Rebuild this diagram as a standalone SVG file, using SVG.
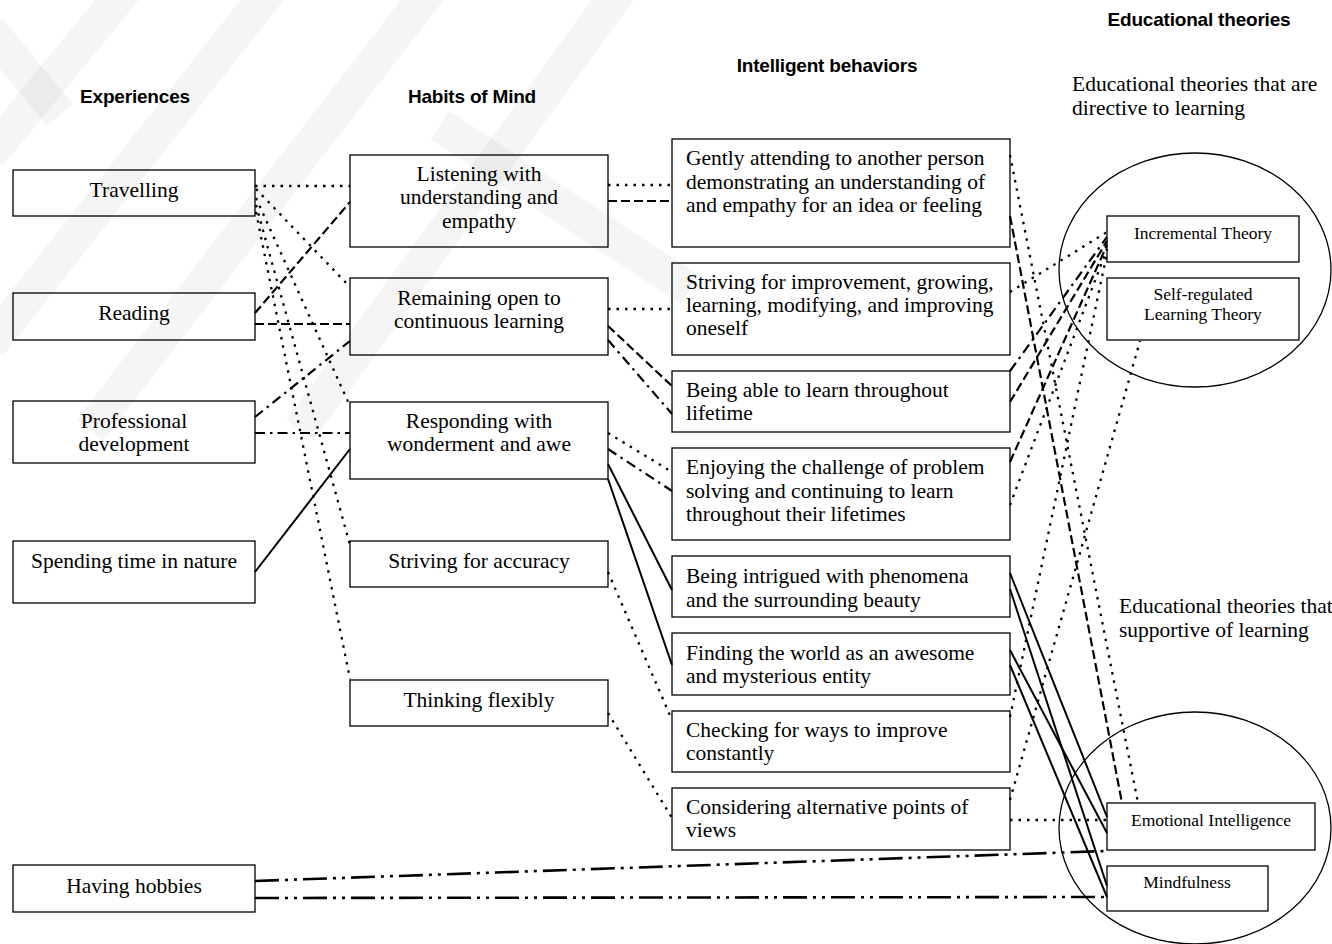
<svg xmlns="http://www.w3.org/2000/svg" width="1332" height="944" viewBox="0 0 1332 944">
  <defs>
    <style>
      .bg { fill: #ffffff; }
      .wm line { stroke: #000; stroke-opacity: 0.04; stroke-width: 34; }
      .box { fill: none; stroke: #000; stroke-width: 1.3; }
      .ring { fill: none; stroke: #000; stroke-width: 1.3; }
      .t { font-family: "Liberation Serif", "Times New Roman", serif; font-size: 21.5px; fill: #000; }
      .c { text-anchor: middle; }
      .s { font-size: 17.5px; }
      .h { font-family: "Liberation Sans", Arial, sans-serif; font-weight: bold; font-size: 19px; fill: #000; text-anchor: middle; letter-spacing: -0.2px; }
      .cn path { fill: none; stroke: #000; stroke-width: 2; }
      .cn .dot { stroke-dasharray: 2.5 6; stroke-width: 2.3; }
      .cn .dash { stroke-dasharray: 9 4; stroke-width: 2.2; }
      .cn .dd { stroke-dasharray: 10 5 2.5 5; stroke-width: 2.2; }
      .cn .ddd { stroke-dasharray: 24 6 3 6 3 6; stroke-width: 2.6; }
      .cn .solid { stroke-width: 2; }
    </style>
  </defs>

  <rect class="bg" x="0" y="0" width="1332" height="944"/>

  <!-- faint diagonal background stamp -->
  <g class="wm">
    <line x1="-10" y1="30" x2="60" y2="115"/>
    <line x1="-10" y1="155" x2="125" y2="-10"/>
    <line x1="-10" y1="345" x2="270" y2="-10"/>
    <line x1="90" y1="430" x2="430" y2="-10"/>
    <line x1="300" y1="430" x2="620" y2="-10"/>
    <line x1="440" y1="125" x2="690" y2="290"/>
  </g>

  <!-- column headings -->
  <g id="headings">
    <text class="h" x="135" y="103">Experiences</text>
    <text class="h" x="472" y="103">Habits of Mind</text>
    <text class="h" x="827" y="72">Intelligent behaviors</text>
    <text class="h" x="1199" y="26">Educational theories</text>
    <text class="t" x="1072" y="91">Educational theories that are</text>
    <text class="t" x="1072" y="115">directive to learning</text>
    <text class="t" x="1119" y="613">Educational theories that</text>
    <text class="t" x="1119" y="637">supportive of learning</text>
  </g>

  <!-- theory groupings -->
  <g id="directive-group">
    <ellipse class="ring" cx="1195" cy="270" rx="136" ry="117"/>
  </g>
  <g id="supportive-group">
    <ellipse class="ring" cx="1195" cy="828" rx="136" ry="116"/>
  </g>

  <!-- connectors -->
  <g id="connectors" class="cn">
    <!-- experiences to habits -->
    <path class="dot" d="M255 186 L350 186"/>
    <path class="dot" d="M256 189 L350 287"/>
    <path class="dot" d="M256 198 L350 406"/>
    <path class="dot" d="M256 205 L350 545"/>
    <path class="dot" d="M256 212 L350 679"/>
    <path class="dash" d="M255 313 L350 202"/>
    <path class="dash" d="M255 324 L350 324"/>
    <path class="dd" d="M255 417 L350 341"/>
    <path class="dd" d="M255 433 L350 433"/>
    <path class="solid" d="M255 572 L350 449"/>
    <path class="ddd" d="M255 881 L1106 851"/>
    <path class="ddd" d="M255 898 L1107 897"/>

    <!-- habits to intelligent behaviors -->
    <path class="dot" d="M608 185 L672 185"/>
    <path class="dash" d="M608 201 L672 201"/>
    <path class="dot" d="M608 309 L672 309"/>
    <path class="dash" d="M608 326 L672 386"/>
    <path class="dd" d="M608 340 L672 414"/>
    <path class="dot" d="M608 433 L672 472"/>
    <path class="dd" d="M608 449 L672 491"/>
    <path class="solid" d="M608 464 L672 590"/>
    <path class="solid" d="M608 479 L672 665"/>
    <path class="dot" d="M608 572 L672 720"/>
    <path class="dot" d="M608 713 L672 818"/>

    <!-- intelligent behaviors to theories -->
    <path class="dot" d="M1010 155 L1138 803"/>
    <path class="dash" d="M1010 216 L1122 803"/>
    <path class="dot" d="M1010 292 L1107 232"/>
    <path class="dd" d="M1010 371 L1107 237"/>
    <path class="dash" d="M1010 402 L1107 241"/>
    <path class="dash" d="M1010 462 L1107 245"/>
    <path class="dot" d="M1010 505 L1107 249"/>
    <path class="dot" d="M1010 717 L1107 253"/>
    <path class="dot" d="M1010 800 L1140 341"/>
    <path class="dot" d="M1010 820 L1107 820"/>
    <path class="solid" d="M1010 573 L1107 817"/>
    <path class="solid" d="M1010 589 L1107 886"/>
    <path class="solid" d="M1010 650 L1107 833"/>
    <path class="solid" d="M1010 665 L1107 897"/>
  </g>

  <!-- experiences -->
  <g id="travelling">
    <rect class="box" x="13" y="170" width="242" height="46"/>
    <text class="t c" x="134" y="197">Travelling</text>
  </g>
  <g id="reading">
    <rect class="box" x="13" y="293" width="242" height="47"/>
    <text class="t c" x="134" y="320">Reading</text>
  </g>
  <g id="professional-development">
    <rect class="box" x="13" y="401" width="242" height="62"/>
    <text class="t c" x="134" y="428">Professional</text>
    <text class="t c" x="134" y="451">development</text>
  </g>
  <g id="spending-time-in-nature">
    <rect class="box" x="13" y="541" width="242" height="62"/>
    <text class="t c" x="134" y="568">Spending time in nature</text>
  </g>
  <g id="having-hobbies">
    <rect class="box" x="13" y="865" width="242" height="47"/>
    <text class="t c" x="134" y="893">Having hobbies</text>
  </g>

  <!-- habits of mind -->
  <g id="listening">
    <rect class="box" x="350" y="155" width="258" height="92"/>
    <text class="t c" x="479" y="181">Listening with</text>
    <text class="t c" x="479" y="204">understanding and</text>
    <text class="t c" x="479" y="228">empathy</text>
  </g>
  <g id="remaining-open">
    <rect class="box" x="350" y="278" width="258" height="77"/>
    <text class="t c" x="479" y="305">Remaining open to</text>
    <text class="t c" x="479" y="328">continuous learning</text>
  </g>
  <g id="responding-wonderment">
    <rect class="box" x="350" y="402" width="258" height="77"/>
    <text class="t c" x="479" y="428">Responding with</text>
    <text class="t c" x="479" y="451">wonderment and awe</text>
  </g>
  <g id="striving-accuracy">
    <rect class="box" x="350" y="541" width="258" height="46"/>
    <text class="t c" x="479" y="568">Striving for accuracy</text>
  </g>
  <g id="thinking-flexibly">
    <rect class="box" x="350" y="680" width="258" height="46"/>
    <text class="t c" x="479" y="707">Thinking flexibly</text>
  </g>

  <!-- intelligent behaviors -->
  <g id="gently-attending">
    <rect class="box" x="672" y="139" width="338" height="108"/>
    <text class="t" x="686" y="165">Gently attending to another person</text>
    <text class="t" x="686" y="189">demonstrating an understanding of</text>
    <text class="t" x="686" y="212">and empathy for an idea or feeling</text>
  </g>
  <g id="striving-improvement">
    <rect class="box" x="672" y="263" width="338" height="92"/>
    <text class="t" x="686" y="289">Striving for improvement, growing,</text>
    <text class="t" x="686" y="312">learning, modifying, and improving</text>
    <text class="t" x="686" y="335">oneself</text>
  </g>
  <g id="learn-throughout-lifetime">
    <rect class="box" x="672" y="371" width="338" height="61"/>
    <text class="t" x="686" y="397">Being able to learn throughout</text>
    <text class="t" x="686" y="420">lifetime</text>
  </g>
  <g id="enjoying-challenge">
    <rect class="box" x="672" y="448" width="338" height="92"/>
    <text class="t" x="686" y="474">Enjoying the challenge of problem</text>
    <text class="t" x="686" y="498">solving and continuing to learn</text>
    <text class="t" x="686" y="521">throughout their lifetimes</text>
  </g>
  <g id="intrigued-phenomena">
    <rect class="box" x="672" y="556" width="338" height="61"/>
    <text class="t" x="686" y="583">Being intrigued with phenomena</text>
    <text class="t" x="686" y="607">and the surrounding beauty</text>
  </g>
  <g id="awesome-world">
    <rect class="box" x="672" y="633" width="338" height="62"/>
    <text class="t" x="686" y="660">Finding the world as an awesome</text>
    <text class="t" x="686" y="683">and mysterious entity</text>
  </g>
  <g id="checking-improve">
    <rect class="box" x="672" y="711" width="338" height="61"/>
    <text class="t" x="686" y="737">Checking for ways to improve</text>
    <text class="t" x="686" y="760">constantly</text>
  </g>
  <g id="alternative-views">
    <rect class="box" x="672" y="788" width="338" height="62"/>
    <text class="t" x="686" y="814">Considering alternative points of</text>
    <text class="t" x="686" y="837">views</text>
  </g>

  <!-- educational theories -->
  <g id="incremental-theory">
    <rect class="box" x="1107" y="216" width="192" height="46"/>
    <text class="t s c" x="1203" y="239">Incremental Theory</text>
  </g>
  <g id="self-regulated-learning">
    <rect class="box" x="1107" y="278" width="192" height="62"/>
    <text class="t s c" x="1203" y="300">Self-regulated</text>
    <text class="t s c" x="1203" y="320">Learning Theory</text>
  </g>
  <g id="emotional-intelligence">
    <rect class="box" x="1107" y="803" width="208" height="47"/>
    <text class="t s c" x="1211" y="826">Emotional Intelligence</text>
  </g>
  <g id="mindfulness">
    <rect class="box" x="1107" y="866" width="161" height="45"/>
    <text class="t s c" x="1187" y="888">Mindfulness</text>
  </g>
</svg>
